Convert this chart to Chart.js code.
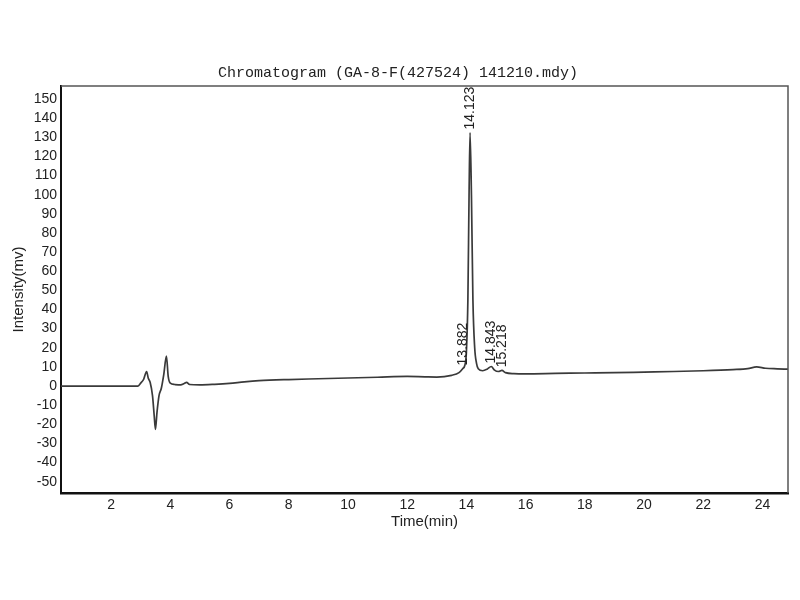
<!DOCTYPE html>
<html>
<head>
<meta charset="utf-8">
<script src="https://cdn.jsdelivr.net/npm/chart.js@4"></script>
<style>
  html, body { margin: 0; padding: 0; background: #fff; }
  #wrap { width: 800px; height: 600px; }
</style>
</head>
<body>
<div id="wrap"><canvas id="chrom" width="800" height="600"></canvas></div>
<script>
// retention time (min) and detector signal (mv)
const times = [0.31, 2.9, 3.0, 3.1, 3.2, 3.26, 3.32, 3.4, 3.46, 3.5, 3.55, 3.62, 3.7, 3.78, 3.87, 3.93,
  4.0, 4.15, 4.35, 4.47, 4.55, 4.65, 5.0, 5.5, 6.0, 6.5, 7.0, 8.0, 9.0, 10.0, 11.0, 12.0, 12.6, 13.0,
  13.5, 13.75, 13.88, 13.95, 14.0, 14.05, 14.09, 14.123, 14.17, 14.22, 14.28, 14.34, 14.4, 14.55, 14.7,
  14.84, 14.95, 15.08, 15.2, 15.32, 15.6, 16, 17, 18, 19, 20, 21, 22, 23, 23.5, 23.8, 24.1, 24.5, 24.86];
const intensity = [0, 0, 1.5, 3.5, 7.5, 4, 2, -5, -16, -22.6, -14, -5, -1, 6, 15.7, 5,
  1.5, 0.8, 0.6, 1.3, 1.9, 0.8, 0.6, 0.9, 1.4, 2.2, 2.8, 3.4, 3.8, 4.2, 4.6, 5.0, 4.8, 4.7,
  5.6, 7, 9.2, 11, 18, 45, 100, 132.5, 100, 45, 20, 12, 9, 8, 8.8,
  10.2, 8.3, 7.6, 8.2, 7.0, 6.5, 6.4, 6.6, 6.8, 7.0, 7.3, 7.6, 8.0, 8.6, 9.1, 10, 9.3, 9.0, 8.8];

// annotated peaks
const peakTimes = [13.882, 14.123, 14.843, 15.218];
const peakLabels = ['13.882', '14.123', '14.843', '15.218'];

const xTicks = [2, 4, 6, 8, 10, 12, 14, 16, 18, 20, 22, 24];
const yTicks = [150, 140, 130, 120, 110, 100, 90, 80, 70, 60, 50, 40, 30, 20, 10, 0, -10, -20, -30, -40, -50];

// box around the plot
const frame = {
  id: 'frame',
  afterDraw(chart) {
    const { ctx, chartArea: a } = chart;
    ctx.save();
    ctx.strokeStyle = '#555';
    ctx.lineWidth = 1.5;
    ctx.beginPath();
    ctx.moveTo(a.left, a.top);
    ctx.lineTo(a.right, a.top);
    ctx.lineTo(a.right, a.bottom);
    ctx.stroke();
    ctx.restore();
  }
};

// vertical retention time labels above each peak
const peakNames = {
  id: 'peakNames',
  afterDatasetsDraw(chart) {
    const { ctx, scales } = chart;
    ctx.save();
    ctx.font = '14px "Liberation Sans", Arial, sans-serif';
    ctx.fillStyle = '#222';
    ctx.textAlign = 'left';
    ctx.textBaseline = 'middle';
    peakTimes.forEach((t, i) => {
      let best = 0;
      times.forEach((v, j) => {
        if (Math.abs(v - t) < Math.abs(times[best] - t)) best = j;
      });
      const x = scales.x.getPixelForValue(t);
      const y = scales.y.getPixelForValue(intensity[best]);
      ctx.save();
      ctx.translate(x, y - 3);
      ctx.rotate(-Math.PI / 2);
      ctx.fillText(peakLabels[i], 0, 0);
      ctx.restore();
    });
    ctx.restore();
  }
};

const tickFont = { family: '"Liberation Sans", Arial, sans-serif', size: 14 };
const titleFont = { family: '"Liberation Sans", Arial, sans-serif', size: 15 };

new Chart(document.getElementById('chrom'), {
  type: 'line',
  data: {
    labels: times,
    datasets: [{
      data: times.map((t, i) => ({ x: t, y: intensity[i] })),
      borderColor: '#3a3a3a',
      borderWidth: 1.7,
      pointRadius: 0,
      cubicInterpolationMode: 'monotone',
      fill: false
    }]
  },
  options: {
    responsive: false,
    animation: false,
    layout: { padding: { top: 0, right: 12, bottom: 69, left: 8 } },
    plugins: {
      legend: { display: false },
      tooltip: { enabled: false },
      title: {
        display: true,
        text: 'Chromatogram (GA-8-F(427524) 141210.mdy)',
        color: '#222',
        font: { family: '"Liberation Mono", "DejaVu Sans Mono", monospace', size: 15, weight: 'normal' },
        padding: { top: 64, bottom: 4 }
      }
    },
    scales: {
      x: {
        type: 'linear',
        min: 0.31,
        max: 24.86,
        afterBuildTicks: (scale) => { scale.ticks = xTicks.map(v => ({ value: v })); },
        afterFit: (scale) => { scale.height = 38; },
        ticks: { color: '#222', font: tickFont, padding: 4, maxRotation: 0, autoSkip: false },
        grid: { display: false, drawTicks: false },
        border: { display: true, color: '#111', width: 2.5 },
        title: { display: true, text: 'Time(min)', color: '#222', font: titleFont, padding: { top: 0, bottom: 0 } }
      },
      y: {
        type: 'linear',
        min: -55.9,
        max: 156.8,
        afterBuildTicks: (scale) => { scale.ticks = yTicks.map(v => ({ value: v })); },
        afterFit: (scale) => { scale.width = 53; },
        ticks: { color: '#222', font: tickFont, padding: 4, autoSkip: false },
        grid: { display: false, drawTicks: false },
        border: { display: true, color: '#111', width: 2 },
        title: { display: true, text: 'Intensity(mv)', color: '#222', font: titleFont, padding: { top: 2, bottom: 2 } }
      }
    }
  },
  plugins: [frame, peakNames]
});
</script>
</body>
</html>
